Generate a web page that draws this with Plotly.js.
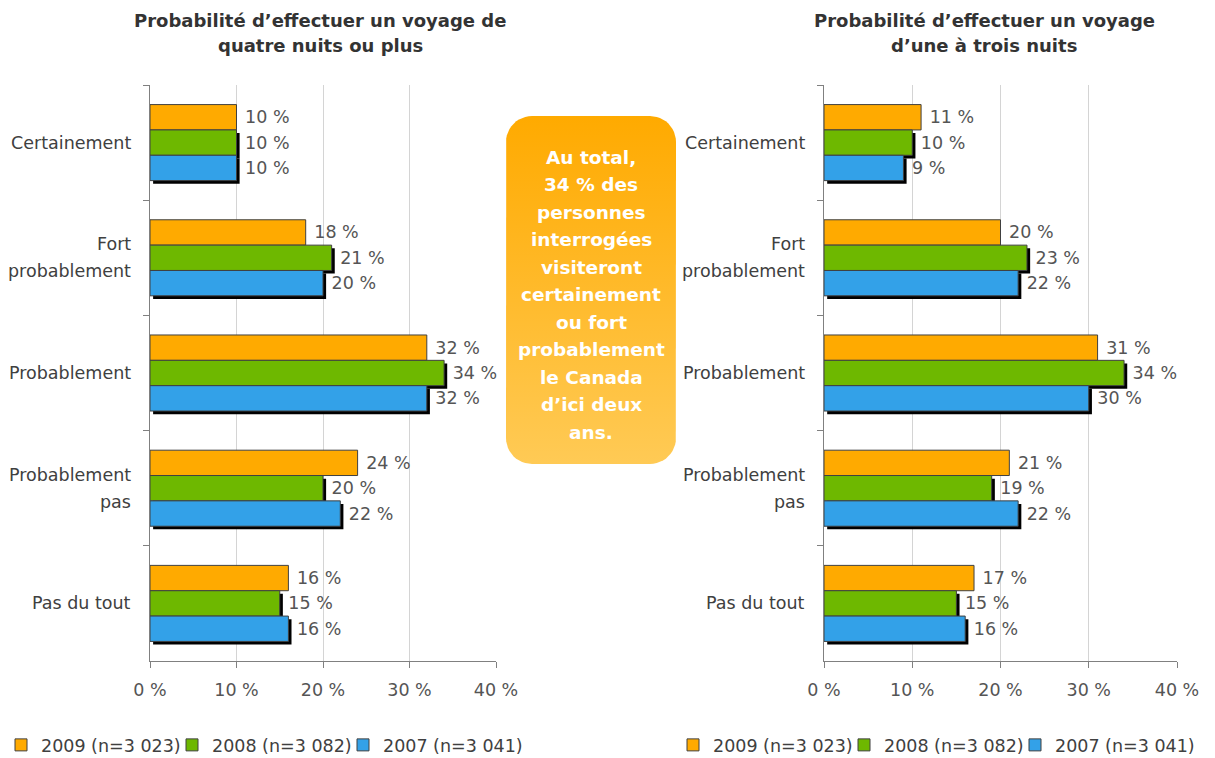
<!DOCTYPE html>
<html><head><meta charset="utf-8">
<script src="https://cdn.plot.ly/plotly-3.0.1.min.js"></script>
<style>html,body{margin:0;padding:0;background:#fff}#chart{width:1215px;height:758px}</style>
</head><body><div id="chart"></div><script>
// ---- data ----
const categories = ['Certainement', 'Fort probablement', 'Probablement', 'Probablement pas', 'Pas du tout'];
const categoryLines = [['Certainement'], ['Fort', 'probablement'], ['Probablement'], ['Probablement', 'pas'], ['Pas du tout']];
const seriesNames = ['2009 (n=3 023)', '2008 (n=3 082)', '2007 (n=3 041)'];
const seriesColors = ['#FFAA00', '#6EB800', '#33A1E8'];
const long2009 = [10, 18, 32, 24, 16];
const long2008 = [10, 21, 34, 20, 15];
const long2007 = [10, 20, 32, 22, 16];
const short2009 = [11, 20, 31, 21, 17];
const short2008 = [10, 23, 34, 19, 15];
const short2007 = [9, 22, 30, 22, 16];
const xTicks = [0, 10, 20, 30, 40];
const titleLeftLines = ['Probabilité d’effectuer un voyage de', 'quatre nuits ou plus'];
const titleRightLines = ['Probabilité d’effectuer un voyage', 'd’une à trois nuits'];
const boxLines = ['Au total,', '34 % des', 'personnes', 'interrogées', 'visiteront', 'certainement', 'ou fort', 'probablement', 'le Canada', 'd’ici deux', 'ans.'];

// ---- styling ----
const FONT = 'DejaVu Sans, Liberation Sans, sans-serif';
const W = 1215, H = 758;
const barW = 0.22;
const offsets = [-0.33, -0.11, 0.11];
const shadowDy = 0.027, shadowDx = 0.36;

function chartTraces(values, xa, ya, legendId) {
  const tr = [];
  [1, 2].forEach(i => {
    tr.push({
      type: 'bar', orientation: 'h', y: categories, x: values[i], base: shadowDx,
      xaxis: xa, yaxis: ya, width: barW, offset: offsets[i] + shadowDy,
      marker: {color: '#000', line: {width: 0}}, showlegend: false, hoverinfo: 'skip'
    });
  });
  values.forEach((v, i) => {
    tr.push({
      type: 'bar', orientation: 'h', y: categories, x: v, name: seriesNames[i],
      xaxis: xa, yaxis: ya, width: barW, offset: offsets[i], legend: legendId,
      marker: {color: seriesColors[i], line: {width: 1, color: '#404040'}},
      text: v.map(n => '\u00a0' + n + '\u00a0%'), textposition: 'outside',
      textfont: {family: FONT, size: 17.5, color: '#555'}, constraintext: 'none', cliponaxis: false
    });
  });
  // invisible spacer legend entry so the last legend label is not clipped
  tr.push({type: 'bar', orientation: 'h', x: [0], y: [categories[0]], xaxis: xa, yaxis: ya, name: '\u00a0',
    legend: legendId, width: barW, offset: offsets[0],
    marker: {color: 'rgba(0,0,0,0)', line: {width: 0}}, hoverinfo: 'skip'});
  return tr;
}

function roundedBox(x0, y0, x1, y1, r) {
  const xs = [], ys = [];
  const corners = [[x1 - r, y0 + r, -90], [x1 - r, y1 - r, 0], [x0 + r, y1 - r, 90], [x0 + r, y0 + r, 180]];
  corners.forEach(([cx, cy, a0]) => {
    for (let k = 0; k <= 12; k++) {
      const a = (a0 + k * 90 / 12) * Math.PI / 180;
      xs.push(cx + r * Math.cos(a)); ys.push(cy + r * Math.sin(a));
    }
  });
  xs.push(xs[0]); ys.push(ys[0]);
  return {xs, ys};
}
const box = roundedBox(506, 116, 676, 464, 26);

const data = [{
  type: 'scatter', mode: 'lines', x: box.xs, y: box.ys, xaxis: 'x3', yaxis: 'y3',
  fill: 'toself', line: {width: 0, color: 'rgba(0,0,0,0)'},
  fillgradient: {type: 'vertical', start: 116, stop: 464, colorscale: [[0, '#FFAA00'], [1, '#FFCA55']]},
  showlegend: false, hoverinfo: 'skip'
}].concat(
  chartTraces([long2009, long2008, long2007], 'x', 'y', 'legend'),
  chartTraces([short2009, short2008, short2007], 'x2', 'y2', 'legend2')
);

function xAxis(d0, d1, anchor) {
  return {domain: [d0 / W, d1 / W], range: [0, 40], tickvals: xTicks, ticktext: xTicks.map(t => t + '\u00a0%'),
    ticks: 'outside', ticklen: 6, tickcolor: '#808080', showgrid: true, gridcolor: '#d4d4d4', gridwidth: 1,
    showline: true, linecolor: '#808080', zeroline: false, anchor: anchor, ticklabelstandoff: 7,
    tickfont: {family: FONT, size: 17.5, color: '#555'}, fixedrange: true};
}
function yAxis(anchor) {
  return {domain: [1 - 661 / H, 1 - 85 / H], type: 'category', categoryarray: categories, categoryorder: 'array',
    range: [4.5, -0.5], showticklabels: false, ticks: 'outside', tickson: 'boundaries', ticklen: 6,
    tickcolor: '#808080', showline: true, linecolor: '#808080', showgrid: false, zeroline: false,
    anchor: anchor, fixedrange: true};
}

const annotations = [];
function addLabels(yref, xRight) {
  categories.forEach((c, ci) => {
    const lines = categoryLines[ci];
    lines.forEach((ln, li) => {
      annotations.push({xref: 'paper', yref: yref, x: xRight / W, y: c, xanchor: 'right', yanchor: 'middle',
        text: ln, showarrow: false, yshift: ((lines.length - 1) / 2 - li) * 27,
        font: {family: FONT, size: 17.5, color: '#404040'}});
    });
  });
}
addLabels('y', 133);
addLabels('y2', 807);
function addLines(lines, xc, yc, spacing, font) {
  lines.forEach((ln, li) => {
    annotations.push({xref: 'paper', yref: 'paper', x: xc / W, y: 1 - yc / H, xanchor: 'center', yanchor: 'middle',
      text: ln, showarrow: false, yshift: ((lines.length - 1) / 2 - li) * spacing, font: font});
  });
}
addLines(titleLeftLines, 320, 32.5, 25, {family: FONT, size: 18, color: '#333', weight: 'bold'});
addLines(titleRightLines, 984, 32.5, 25, {family: FONT, size: 18, color: '#333', weight: 'bold'});
addLines(boxLines, 591, 294.5, 27.5, {family: FONT, size: 18.5, color: '#fff', weight: 'bold'});

const legendBase = {orientation: 'h', yanchor: 'middle', y: 1 - 745 / H, xanchor: 'left', bgcolor: 'rgba(0,0,0,0)',
  font: {family: FONT, size: 17.5, color: '#404040'}, traceorder: 'normal', itemclick: false, itemdoubleclick: false,
  entrywidth: 126, entrywidthmode: 'pixels'};

const layout = {
  width: W, height: H, margin: {l: 0, r: 0, t: 0, b: 0, autoexpand: false},
  paper_bgcolor: '#fff', plot_bgcolor: 'rgba(0,0,0,0)',
  barmode: 'overlay', showlegend: true,
  font: {family: FONT},
  xaxis: xAxis(150, 496, 'y'), yaxis: yAxis('x'),
  xaxis2: xAxis(824, 1177, 'y2'), yaxis2: yAxis('x2'),
  xaxis3: {domain: [0, 1], range: [0, W], visible: false, fixedrange: true, anchor: 'y3'},
  yaxis3: {domain: [0, 1], range: [H, 0], visible: false, fixedrange: true, anchor: 'x3'},
  legend: Object.assign({}, legendBase, {x: 1 / W}),
  legend2: Object.assign({}, legendBase, {x: 673 / W}),
  annotations: annotations
};

Plotly.newPlot('chart', data, layout, {displayModeBar: false, staticPlot: true});
</script></body></html>
